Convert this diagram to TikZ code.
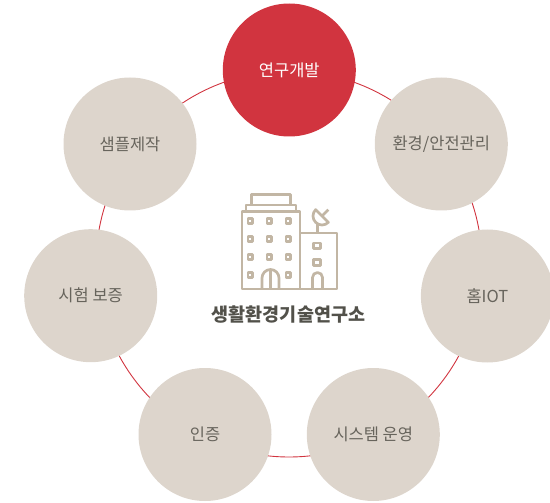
\documentclass[tikz,border=0pt]{standalone}
\usepackage{fontspec}
\usepackage{xcolor}
\usepackage{tikz}
\newfontfamily\krfont{Noto Sans CJK KR}
\definecolor{sand}{HTML}{DDD5CC}
\definecolor{berry}{HTML}{D1343F}
\definecolor{ink}{HTML}{67645C}
\definecolor{inkdark}{HTML}{52514A}
\definecolor{tan}{HTML}{C2B6A4}
\pgfdeclarelayer{bg}
\pgfsetlayers{bg,main}

\begin{document}
\begin{tikzpicture}[x=1pt, y=-1pt,
    topic/.style={circle, fill=sand, minimum size=133pt, inner sep=0pt, text=ink, font=\krfont\fontsize{16.5}{18}\selectfont},
    icon/.style={draw=tan, line width=2.7pt, line join=round}]
	\useasboundingbox (0,0) rectangle (550,503);
	\coordinate (hub) at (289,264);
	\node[topic, fill=berry, text=white] (lab0) at (289.3,70) {연구개발};
	\foreach \x/\y/\txt [count=\iTopic] in {441.3/144/{환경/안전관리}, 487.4/296/홈IOT, 373.3/434.5/시스템 운영, 205/434.5/인증, 90.7/295.7/시험 보증, 130/144/샘플제작}
	{
		\node[topic] (lab\iTopic) at (\x,\y) {\txt};
	}
	\begin{pgfonlayer}{bg}
		\draw[berry, line width=0.9pt] (hub) circle [radius=193];
	\end{pgfonlayer}
	% building
	\draw[icon] (251.8,194.2) rectangle (290.8,205);
	\draw[icon] (246,205) rectangle (296,211.5);
	\draw[icon] (241.9,211.5) rectangle (300.1,289);
	\draw[icon] (300.1,233) -- (337,233) -- (337,289) -- (300.1,289);
	\foreach \x in {250.3,269.3,288.3}
		\foreach \y in {221,239,257}
			\draw[icon, line width=2.5pt] (\x-2.3,\y-2.3) rectangle (\x+2.3,\y+2.3);
	\foreach \x in {250.3,288.3}
		\draw[icon, line width=2.5pt] (\x-2.3,272.7) rectangle (\x+2.3,277.3);
	\draw[icon] (262,289) -- (262,278) arc[start angle=180, end angle=360, radius=8.5] -- (279,289);
	\draw[icon] (270.5,269.5) -- (270.5,289);
	% annex
	\draw[icon] (313.4,242.9) rectangle (320.6,248.8);
	\draw[icon] (313.4,259.5) rectangle (320.6,265.5);
	\draw[icon] (312.5,289) -- (312.5,277.5) arc[start angle=180, end angle=360, radius=5] -- (322.5,289);
	\draw[icon] (317.5,233) -- (317.5,224);
	\draw[icon] (322,216) ++(45:9) arc[start angle=45, end angle=225, radius=9] -- cycle;
	\draw[icon] (322,216) -- ++(-45:9);
	\node[font=\krfont\bfseries\fontsize{18.5}{20}\selectfont, text=inkdark] (title) at (288.5,315) {생활환경기술연구소};
\end{tikzpicture}
\end{document}
